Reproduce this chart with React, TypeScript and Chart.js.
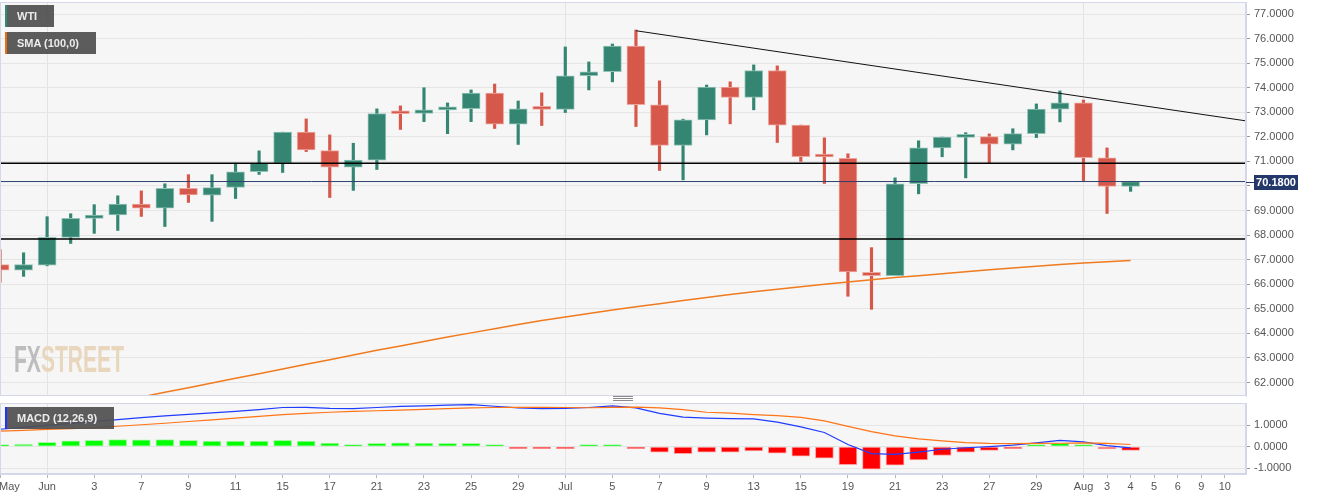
import React, { useEffect, useRef } from 'react';
import { Chart, registerables } from 'chart.js';
Chart.register(...registerables);

const FONT = "'Liberation Sans', Arial, Helvetica, sans-serif";

// ---- data (one entry per trading day) ----
const dates = ['May 28','May 31','Jun 1','Jun 2','Jun 3','Jun 4','Jun 7','Jun 8','Jun 9','Jun 10','Jun 11','Jun 14','Jun 15','Jun 16','Jun 17','Jun 18','Jun 21','Jun 22','Jun 23','Jun 24','Jun 25','Jun 28','Jun 29','Jun 30','Jul 1','Jul 2','Jul 5','Jul 6','Jul 7','Jul 8','Jul 9','Jul 12','Jul 13','Jul 14','Jul 15','Jul 16','Jul 19','Jul 20','Jul 21','Jul 22','Jul 23','Jul 26','Jul 27','Jul 28','Jul 29','Jul 30','Aug 2','Aug 3','Aug 4'];
const openP  = [66.80,66.57,66.78,67.91,68.68,68.82,69.26,69.10,69.90,69.63,69.94,70.58,70.93,72.19,71.44,70.77,71.05,72.96,72.95,73.10,73.15,73.78,72.52,73.14,73.12,74.49,74.65,75.70,73.30,71.65,72.69,74.03,73.61,74.70,72.48,71.20,71.13,66.48,66.35,70.09,71.55,71.98,72.01,71.70,72.13,73.13,73.39,71.15,69.98];
const highP  = [67.41,67.28,68.75,68.87,69.24,69.60,69.80,70.09,70.46,70.46,70.93,71.43,72.19,72.73,72.08,71.74,73.14,73.26,74.00,73.38,73.91,74.15,73.46,73.79,75.66,75.05,75.78,76.35,74.28,72.72,74.11,74.24,74.93,74.89,72.48,71.96,71.31,67.49,70.33,71.84,71.99,72.17,72.12,72.33,73.34,73.87,73.50,71.55,70.18];
const lowP   = [66.08,66.32,66.75,67.66,68.07,68.19,68.76,68.35,69.33,68.56,69.49,70.47,70.55,71.40,69.53,69.82,70.67,72.30,72.62,72.13,72.62,72.34,71.69,72.46,72.99,73.91,74.24,72.42,70.63,70.25,72.08,72.53,73.10,71.77,71.00,70.10,65.51,64.98,66.35,69.68,71.19,70.33,70.93,71.47,71.97,72.61,70.21,68.88,69.78];
const closeP = [66.57,66.80,67.91,68.68,68.82,69.26,69.10,69.90,69.64,69.93,70.58,70.93,72.19,71.47,70.77,71.05,72.95,72.94,73.10,73.16,73.78,72.52,73.14,73.12,74.48,74.65,75.70,73.31,71.65,72.69,74.03,73.61,74.70,72.48,71.19,71.18,66.50,66.35,70.09,71.55,71.99,72.00,71.70,72.13,73.13,73.39,71.15,69.98,70.18];
const sma100 = [60.27,60.46,60.65,60.84,61.03,61.22,61.41,61.60,61.79,61.98,62.17,62.36,62.55,62.74,62.93,63.12,63.31,63.49,63.67,63.85,64.02,64.19,64.36,64.52,64.67,64.81,64.95,65.08,65.21,65.34,65.46,65.58,65.69,65.80,65.90,66.00,66.09,66.18,66.27,66.35,66.43,66.51,66.59,66.66,66.73,66.80,66.86,66.92,66.97];
const macdLine   = [0.81,0.90,0.99,1.08,1.17,1.26,1.35,1.43,1.50,1.57,1.64,1.72,1.82,1.83,1.78,1.77,1.82,1.87,1.90,1.93,1.95,1.88,1.80,1.77,1.78,1.82,1.90,1.80,1.55,1.37,1.33,1.30,1.29,1.14,0.92,0.66,0.10,-0.32,-0.36,-0.25,-0.12,-0.05,0.00,0.07,0.18,0.29,0.22,0.05,-0.06];
const signalLine = [0.72,0.76,0.80,0.84,0.89,0.95,1.02,1.09,1.17,1.25,1.33,1.41,1.49,1.55,1.60,1.64,1.67,1.70,1.73,1.77,1.80,1.82,1.83,1.83,1.82,1.81,1.83,1.84,1.80,1.72,1.60,1.56,1.49,1.44,1.36,1.20,0.94,0.70,0.50,0.36,0.27,0.19,0.15,0.14,0.15,0.16,0.18,0.15,0.10];
const macdHist   = [0.09,0.12,0.20,0.27,0.30,0.33,0.32,0.33,0.29,0.26,0.26,0.26,0.30,0.26,0.17,0.10,0.15,0.18,0.17,0.15,0.15,0.06,-0.02,-0.06,-0.02,0.03,0.07,-0.05,-0.26,-0.32,-0.26,-0.26,-0.20,-0.30,-0.44,-0.53,-0.84,-1.04,-0.86,-0.62,-0.41,-0.26,-0.17,-0.09,0.02,0.15,0.03,-0.10,-0.17];

// x-axis ticks (bar index -> label); indices past the last bar are future sessions
const tickPos  = [0, 0.4, 2, 4, 6, 8, 10, 12, 14, 16, 18, 20, 22, 24, 26, 28, 30, 32, 34, 36, 38, 40, 42, 44, 46, 47, 48, 49, 50, 51, 52];
const tickText = ['', 'May', 'Jun', '3', '7', '9', '11', '15', '17', '21', '23', '25', '29', 'Jul', '5', '7', '9', '13', '15', '19', '21', '23', '27', '29', 'Aug', '3', '4', '5', '6', '9', '10'];
const monthLabels = ['Jun', 'Jul', 'Aug'];

// drawn levels
const resistanceLevel = 70.93;
const supportLevel = 67.84;
const trendFrom = { x: 27, y: 76.32 };
const trendTo = { x: 52.9, y: 72.65 };

const X_MAX = 52.9;
const PRICE_MIN = 61.45, PRICE_MAX = 77.49;
const MACD_MIN = -1.27, MACD_MAX = 2.03;
const macdTicks = [-1, 0, 1];

const GREEN = '#348673', RED = '#d6584a';
const GREEN_B = '#93c3b7', RED_B = '#eda79f';
const AXIS_BORDER = '#d3d7e8';
const GRID = '#e5e5e5';

const panelPlugin = {
  id: 'panelBg',
  beforeDraw(chart: any) {
    const { ctx, chartArea: a } = chart;
    ctx.save();
    ctx.fillStyle = '#ffffff';
    ctx.fillRect(0, 0, chart.width, chart.height);
    ctx.fillStyle = '#f6f6f6';
    ctx.fillRect(a.left, a.top, a.right - a.left, a.bottom - a.top);
    ctx.restore();
  },
  afterDraw(chart: any) {
    const { ctx, chartArea: a } = chart;
    ctx.save();
    ctx.strokeStyle = AXIS_BORDER;
    ctx.lineWidth = 1;
    ctx.strokeRect(a.left + 0.5, a.top + 0.5, a.right - a.left - 1, a.bottom - a.top - 1);
    ctx.restore();
  },
};

const priceTagPlugin = {
  id: 'priceTag',
  afterDraw(chart: any) {
    const { ctx, chartArea: a, scales } = chart;
    const last = closeP[closeP.length - 1];
    const y = Math.round(scales.y.getPixelForValue(last));
    ctx.save();
    ctx.strokeStyle = '#24396a';
    ctx.lineWidth = 1;
    ctx.beginPath();
    ctx.moveTo(a.right, y + 0.5);
    ctx.lineTo(a.right + 8, y + 0.5);
    ctx.stroke();
    ctx.fillStyle = '#24396a';
    ctx.fillRect(a.right + 8, y - 7, 44, 15);
    ctx.fillStyle = '#ffffff';
    ctx.font = 'bold 11px ' + FONT;
    ctx.textAlign = 'center';
    ctx.textBaseline = 'middle';
    ctx.fillText(last.toFixed(4), a.right + 30, y + 1);
    ctx.restore();
  },
};

const idx = dates.map((_, i) => i);

function xScale(showLabels: boolean) {
  return {
    type: 'linear',
    min: 0,
    max: X_MAX,
    offset: false,
    afterBuildTicks: (s: any) => { s.ticks = tickPos.map((v) => ({ value: v })); },
    afterFit: (s: any) => {
      s.paddingLeft = 0; s.paddingRight = 0;
      s.height = showLabels ? 23 : 0;
    },
    border: { display: showLabels, color: AXIS_BORDER },
    grid: {
      offset: false,
      color: (c: any) => (monthLabels.includes(tickText[c.index]) ? '#e3e3e3' : 'rgba(0,0,0,0)'),
      drawTicks: showLabels,
      tickLength: 4,
      tickColor: (c: any) => (tickText[c.index] === 'May' ? 'rgba(0,0,0,0)' : '#b5b5b5'),
    },
    ticks: {
      display: showLabels,
      autoSkip: false,
      maxRotation: 0,
      minRotation: 0,
      padding: 2,
      color: '#555',
      font: { family: FONT, size: 11 },
      callback: (_v: any, i: number) => tickText[i],
    },
  };
}

function yScale(min: number, max: number, ticks: number[], hideNear: number | null) {
  return {
    type: 'linear',
    position: 'right',
    min,
    max,
    afterBuildTicks: (s: any) => { s.ticks = ticks.map((v) => ({ value: v })); },
    afterFit: (s: any) => { s.width = 77; s.paddingTop = 0; s.paddingBottom = 0; },
    border: { display: true, color: AXIS_BORDER },
    grid: { color: GRID, drawTicks: true, tickLength: 4, tickColor: '#999' },
    ticks: {
      padding: 4,
      color: '#555',
      font: { family: FONT, size: 11 },
      callback: (v: any) => (hideNear !== null && Math.abs(v - hideNear) < 0.45 ? '' : Number(v).toFixed(4)),
    },
  };
}

const hLine = (y: number, color: string, width: number) => ({
  type: 'line',
  data: [{ x: 0, y }, { x: X_MAX, y }],
  borderColor: color,
  borderWidth: width,
  pointRadius: 0,
  order: 0,
});

export default function App() {
  const mainRef = useRef<HTMLCanvasElement>(null);
  const macdRef = useRef<HTMLCanvasElement>(null);

  useEffect(() => {
    const priceTicks: number[] = [];
    for (let v = Math.ceil(PRICE_MIN); v <= Math.floor(PRICE_MAX); v++) priceTicks.push(v);
    const last = closeP[closeP.length - 1];
    const up = idx.map((i) => closeP[i] >= openP[i]);

    const main = new Chart(mainRef.current as HTMLCanvasElement, {
      type: 'bar',
      data: {
        datasets: [
          {
            type: 'bar',
            data: idx.map((i) => ({ x: i, y: [openP[i], closeP[i]] })),
            backgroundColor: up.map((u) => (u ? GREEN : RED)),
            borderColor: up.map((u) => (u ? GREEN_B : RED_B)),
            borderWidth: 1,
            borderSkipped: false,
            barThickness: 18,
            minBarLength: 3,
            grouped: false,
            order: 2,
          },
          {
            type: 'bar',
            data: idx.map((i) => ({ x: i, y: [lowP[i], highP[i]] })),
            backgroundColor: up.map((u) => (u ? GREEN : RED)),
            borderWidth: 0,
            barThickness: 2.5,
            grouped: false,
            order: 3,
          },
          {
            type: 'line',
            data: idx.map((i) => ({ x: i, y: sma100[i] })),
            borderColor: '#f07a1e',
            borderWidth: 1.5,
            pointRadius: 0,
            order: 1,
          },
          hLine(resistanceLevel, '#000000', 1.5),
          hLine(supportLevel, '#000000', 1.5),
          hLine(last, '#2c416c', 1),
          {
            type: 'line',
            data: [trendFrom, trendTo],
            borderColor: '#111111',
            borderWidth: 1,
            pointRadius: 0,
            order: 0,
          },
        ],
      } as any,
      options: {
        responsive: false,
        animation: false,
        events: [],
        layout: { padding: { top: 2, bottom: 1, left: 0, right: 0 } },
        plugins: { legend: { display: false }, tooltip: { enabled: false } },
        scales: {
          x: xScale(false),
          y: yScale(PRICE_MIN, PRICE_MAX, priceTicks, last),
        } as any,
      },
      plugins: [panelPlugin, priceTagPlugin],
    });

    const macd = new Chart(macdRef.current as HTMLCanvasElement, {
      type: 'bar',
      data: {
        datasets: [
          {
            type: 'line',
            data: idx.map((i) => ({ x: i, y: signalLine[i] })),
            borderColor: '#ff7417',
            borderWidth: 1.2,
            pointRadius: 0,
            order: 0,
          },
          {
            type: 'line',
            data: idx.map((i) => ({ x: i, y: macdLine[i] })),
            borderColor: '#1f3cff',
            borderWidth: 1.2,
            pointRadius: 0,
            order: 1,
          },
          {
            type: 'bar',
            data: idx.map((i) => ({ x: i, y: macdHist[i] })),
            backgroundColor: macdHist.map((v) => (v >= 0 ? '#00ff00' : '#ff0000')),
            borderColor: macdHist.map((v) => (v >= 0 ? '#a8f5a8' : '#ffa0a0')),
            borderWidth: 1,
            borderSkipped: false,
            barThickness: 18,
            minBarLength: 2,
            grouped: false,
            order: 2,
          },
        ],
      } as any,
      options: {
        responsive: false,
        animation: false,
        events: [],
        layout: { padding: { top: 6, bottom: 0, left: 0, right: 0 } },
        plugins: { legend: { display: false }, tooltip: { enabled: false } },
        scales: {
          x: xScale(true),
          y: yScale(MACD_MIN, MACD_MAX, macdTicks, null),
        } as any,
      },
      plugins: [panelPlugin],
    });

    return () => { main.destroy(); macd.destroy(); };
  }, []);

  const tag = (text: string, color: string, top: number, left: number) => (
    <div style={{
      position: 'absolute', left, top, height: 22, boxSizing: 'border-box',
      background: 'rgba(80,80,80,0.93)', borderLeft: `2px solid ${color}`,
      padding: '0 17px 0 10px', color: '#ececec', font: `bold 11px ${FONT}`,
      lineHeight: '22px', whiteSpace: 'nowrap',
    }}>{text}</div>
  );

  return (
    <div style={{ position: 'fixed', left: 0, top: 0, width: 1323, height: 497, background: '#fff', overflow: 'hidden' }}>
      <canvas ref={mainRef} width={1323} height={397} style={{ position: 'absolute', left: 0, top: 0, width: 1323, height: 397 }} />
      <canvas ref={macdRef} width={1323} height={100} style={{ position: 'absolute', left: 0, top: 397, width: 1323, height: 100 }} />
      <div style={{ position: 'absolute', left: 14, top: 340, font: `bold 36px ${FONT}`, transform: 'scaleX(0.585)', transformOrigin: 'left top', letterSpacing: 0, lineHeight: '40px' }}>
        <span style={{ color: '#bdbdbd' }}>FX</span><span style={{ color: '#e8d6bd' }}>STREET</span>
      </div>
      {tag('WTI', '#2f8a77', 5, 5)}
      {tag('SMA (100,0)', '#ee6a12', 32, 5)}
      {tag('MACD (12,26,9)', '#1a33ff', 407, 5)}
      <div style={{ position: 'absolute', left: 613, top: 396, width: 20 }}>
        {[0, 2, 4].map((t) => (
          <div key={t} style={{ position: 'absolute', top: t, left: 0, width: 20, height: 1, background: '#8a8a8a' }} />
        ))}
      </div>
    </div>
  );
}
